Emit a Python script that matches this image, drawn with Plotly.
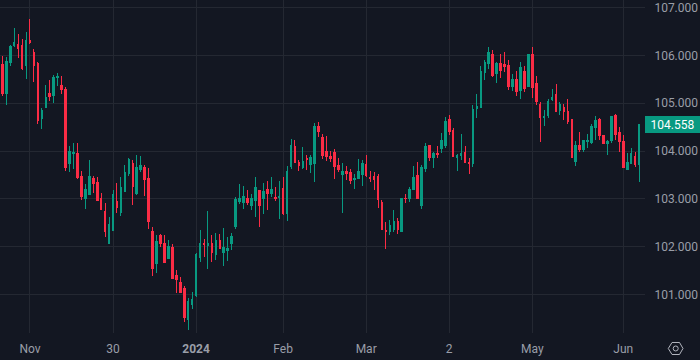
import plotly.graph_objects as go

high = [105.99,105.97,106.22,106.57,106.45,106.34,106.49,106.76,106.13,105.86,104.90,105.38,105.49,105.59,105.63,105.57,105.34,104.11,104.17,104.17,
        103.59,103.31,103.82,103.48,103.46,103.12,102.92,102.62,103.19,103.33,103.46,103.71,103.86,103.82,103.92,103.90,103.71,103.65,
        102.42,102.25,102.27,102.25,102.14,102.06,101.52,101.37,101.18,100.93,101.06,101.87,102.35,102.16,102.75,102.25,102.29,102.27,102.40,102.21,102.29,
        103.04,103.31,103.27,103.19,103.10,103.46,103.19,103.33,103.38,103.46,103.25,103.38,103.46,103.69,104.25,104.23,103.82,104.09,103.92,
        103.92,104.59,104.61,104.36,104.32,104.00,104.04,103.86,103.75,103.69,103.63,103.52,103.84,103.82,103.92,103.58,103.56,103.52,102.98,102.52,102.56,102.77,102.60,
        103.02,103.10,103.25,103.69,103.77,103.71,104.17,104.13,103.98,104.11,104.38,104.71,104.75,104.48,103.94,
        104.36,104.11,103.86,104.96,105.19,105.78,105.90,106.18,106.11,105.86,106.03,106.07,105.90,105.61,105.67,105.86,105.78,106.01,106.18,105.57,105.03,104.86,105.09,105.30,105.40,105.03,104.98,105.09,
        104.67,104.21,104.40,104.23,104.36,104.57,104.73,104.69,104.34,104.23,104.73,104.77,104.50,104.34,103.96,104.06,103.98,104.558]
body_top = [105.82,105.88,106.18,106.26,106.22,106.20,106.32,106.32,106.07,105.84,104.84,105.11,105.21,105.53,105.55,105.38,105.28,104.00,103.98,103.96,
        103.48,103.19,103.48,103.42,103.35,103.00,102.73,102.46,103.10,102.94,103.25,103.56,103.82,103.75,103.65,103.69,103.65,103.42,
        102.33,102.12,102.23,102.08,102.00,101.98,101.41,101.25,101.14,100.85,100.89,101.85,102.08,102.08,102.08,102.06,102.14,102.14,101.98,101.96,102.21,
        102.98,103.02,103.06,103.02,103.00,103.23,103.17,103.15,103.19,103.19,103.04,103.06,103.21,103.58,104.11,104.09,103.77,103.79,103.84,
        103.86,104.52,104.52,104.29,104.00,103.88,103.98,103.69,103.58,103.58,103.56,103.42,103.58,103.75,103.73,103.44,103.48,103.46,102.92,102.35,102.44,102.52,102.52,
        103.00,103.02,103.19,103.44,103.50,103.65,104.09,104.11,103.94,103.94,104.23,104.61,104.67,104.44,103.90,
        103.96,103.98,103.77,104.86,104.94,105.67,105.86,106.05,106.01,105.84,105.84,105.80,105.78,105.49,105.49,105.74,105.67,106.01,106.01,105.42,104.98,104.73,105.03,105.13,105.19,104.98,104.92,104.82,
        104.67,104.11,104.11,104.23,104.23,104.52,104.63,104.67,104.32,104.21,104.73,104.75,104.38,104.21,103.77,103.94,103.88,104.558]
body_bottom = [105.21,105.21,105.86,106.20,106.15,105.72,105.78,106.26,105.78,104.65,104.69,104.92,105.15,105.17,105.53,105.28,103.65,103.75,103.96,103.44,
        103.06,103.00,103.10,103.33,102.96,102.79,102.33,102.08,102.35,102.83,102.71,103.15,103.54,103.27,103.12,103.61,103.40,102.52,
        101.54,101.66,102.08,101.68,101.75,101.33,101.31,101.04,100.53,100.49,100.79,100.99,101.77,102.04,102.02,101.89,101.83,101.96,101.89,101.92,102.08,
        102.42,102.94,102.92,102.92,102.87,102.96,102.87,103.02,103.12,103.12,103.02,103.04,102.69,102.69,103.67,103.77,103.69,103.65,103.82,
        103.71,103.75,104.42,103.90,103.88,103.84,103.67,103.61,103.52,103.54,103.38,103.40,103.42,103.52,103.50,103.42,103.40,102.98,102.37,102.33,102.33,102.37,102.37,
        102.33,103.00,103.02,103.19,103.00,102.87,103.63,103.86,103.86,103.92,104.06,104.11,104.42,103.88,103.86,
        103.90,103.77,103.75,103.75,104.88,104.92,105.65,105.84,105.59,105.63,105.69,105.76,105.34,105.34,105.24,105.26,105.30,105.36,105.32,105.03,104.71,104.71,104.75,105.07,104.82,104.84,104.82,104.61,
        103.86,103.79,104.04,104.04,104.21,104.19,104.50,104.32,104.15,104.15,104.23,104.34,104.21,103.65,103.61,103.75,103.71,103.73]
low = [105.15,104.96,105.78,106.18,105.95,105.69,105.51,106.24,105.44,104.57,104.46,104.92,105.05,105.01,105.36,105.19,103.59,103.56,103.63,103.42,
        102.98,102.79,103.08,103.12,102.96,102.79,102.21,102.08,102.33,102.71,102.65,103.15,103.48,102.87,103.08,103.56,103.06,102.37,
        101.39,101.45,102.00,101.66,101.75,101.33,101.04,101.04,100.43,100.26,100.70,100.95,101.68,101.79,101.54,101.68,101.73,101.96,101.60,101.71,101.93,
        102.37,102.90,102.79,102.87,102.77,102.62,102.42,102.69,102.77,103.04,102.96,102.58,102.67,102.54,103.63,103.77,103.58,103.63,103.61,
        103.54,103.35,104.29,103.84,103.79,103.77,103.42,103.56,102.71,103.40,103.31,103.21,103.42,103.27,103.46,103.35,103.19,102.81,102.37,101.96,102.25,102.31,102.27,
        102.33,102.92,102.94,103.19,103.00,102.79,103.56,103.79,103.65,103.86,103.96,104.06,104.34,103.88,103.58,
        103.82,103.75,103.52,103.67,104.69,104.90,105.49,105.72,105.55,105.42,105.53,105.65,105.28,105.26,105.15,105.09,105.24,105.34,105.11,104.96,104.19,104.52,104.69,105.05,104.82,104.75,104.65,104.57,
        103.86,103.69,103.98,103.98,104.06,104.15,104.23,104.23,104.15,103.92,104.17,104.23,103.98,103.65,103.61,103.73,103.67,103.35]
colors = ["R","G","G","G","R","R","G","R","R","R","G","G","R","G","G","R","R","G","G","R",
          "R","G","G","R","R","R","R","G","G","R","G","G","G","R","G","G","R","R",
          "R","G","R","R","G","R","R","R","R","G","G","G","G","R","G","R","G","R","G","G","G",
          "G","G","G","R","G","G","R","G","R","G","R","G","R","G","G","R","R","G","R",
          "G","G","R","R","R","R","R","R","G","R","R","G","G","G","R","R","R","R","R","R","G","G","R",
          "G","R","G","G","R","G","G","R","G","R","G","G","R","R","G",
          "G","R","R","G","G","G","G","G","R","G","R","R","R","G","R","G","R","G","R","R","R","G","G","G","R","G","R","R",
          "R","G","R","G","G","G","G","R","R","G","G","R","R","R","G","G","R","G"]
tick_positions = [7, 28, 49, 71, 92, 113, 134, 157]
tick_labels = ["Nov", "30", "<b>2024</b>", "Feb", "Mar", "2", "May", "Jun"]
price_ticks = [101, 102, 103, 104, 105, 106, 107]
last_price = 104.558

UP = "#089981"
DOWN = "#FB2C45"
BG = "#131722"
GRID = "#242832"
TEXT = "#9a9ea8"

index = list(range(len(high)))
opens = [b if c == "G" else t for c, t, b in zip(colors, body_top, body_bottom)]
closes = [t if c == "G" else b for c, t, b in zip(colors, body_top, body_bottom)]

fig = go.Figure(go.Candlestick(
    x=index, open=opens, high=high, low=low, close=closes,
    increasing=dict(line=dict(color=UP, width=1), fillcolor=UP),
    decreasing=dict(line=dict(color=DOWN, width=1), fillcolor=DOWN),
    whiskerwidth=0, hoverinfo="skip", showlegend=False,
))
fig.update_layout(
    width=700, height=360, autosize=False,
    margin=dict(l=0, r=55, t=0, b=27),
    paper_bgcolor=BG, plot_bgcolor=BG, boxgap=0.42,
    font=dict(family="Roboto, sans-serif", size=12, color=TEXT),
    showlegend=False,
    xaxis=dict(range=[-0.58, 162.5], rangeslider=dict(visible=False), tickmode="array",
               tickvals=tick_positions, ticktext=tick_labels, showgrid=True, gridcolor=GRID, gridwidth=1,
               zeroline=False, showline=False, ticks="outside", ticklen=5, tickcolor="rgba(0,0,0,0)",
               tickfont=dict(size=12, color=TEXT, family="Roboto, sans-serif")),
    yaxis=dict(range=[100.2, 107.157], side="right", tickmode="array", tickvals=price_ticks,
               tickformat=".3f", showgrid=True, gridcolor=GRID, gridwidth=1, zeroline=False, showline=False,
               ticks="outside", ticklen=6, tickcolor="rgba(0,0,0,0)",
               tickfont=dict(size=12, color=TEXT, family="Roboto, sans-serif")),
    annotations=[dict(xref="paper", yref="y", x=1.0, y=last_price, xanchor="left", yanchor="middle",
                      text=f"{last_price:.3f}", showarrow=False, bgcolor=UP, width=51, height=13,
                      borderpad=2, borderwidth=0, align="center", font=dict(color="#ffffff", size=12))],
    shapes=[
        dict(type="path", xref="paper", yref="paper",
             path="M 1.0361 -0.0465 L 1.0419 -0.0285 L 1.0535 -0.0285 L 1.0589 -0.0465 L 1.0535 -0.0646 L 1.0419 -0.0646 Z",
             line=dict(color="#b2b5be", width=1)),
        dict(type="circle", xref="paper", yref="paper", x0=1.0437, x1=1.0515, y0=-0.0540, y1=-0.0390,
             line=dict(color="#b2b5be", width=1)),
    ],
)
fig.write_html("out.html", config=dict(displayModeBar=False, responsive=False),
               post_script="document.body.style.margin='0';document.body.style.background='#131722';"
                           "document.querySelectorAll('.boxlayer path').forEach(p=>p.style.shapeRendering='crispEdges');")
